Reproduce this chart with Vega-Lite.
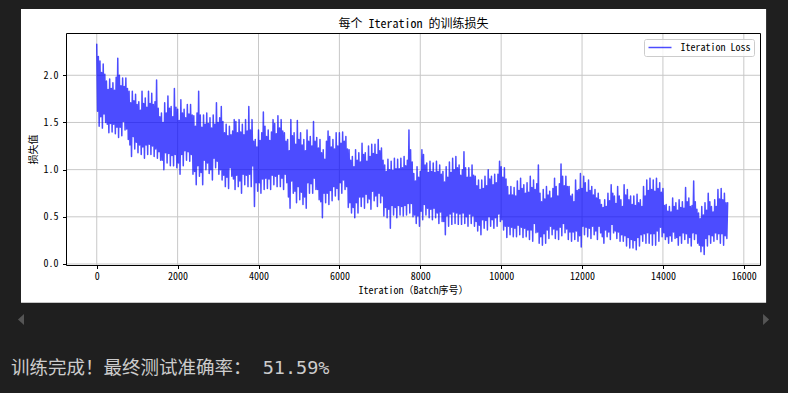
{
"$schema": "https://vega.github.io/schema/vega-lite/v6.json",
"width": 694, "height": 232,
"autosize": {"type": "none"},
"padding": {"left": 66, "top": 33, "right": 28, "bottom": 128},
"background": "#1f1f1f",
"config": {
  "font": "Noto Sans Mono CJK SC, DejaVu Sans Mono, Noto Sans CJK SC",
  "view": {"stroke": null},
  "axis": {"grid": false, "domainColor": "#000000", "domainWidth": 1, "tickColor": "#000000", "tickSize": 3.5, "tickWidth": 1, "labelColor": "#000000", "labelFontSize": 10, "titleColor": "#000000", "titleFontSize": 10, "titleFontWeight": "normal", "labelFlush": false, "labelOverlap": false},
  "axisX": {"labelPadding": 3, "titlePadding": 3.5},
  "axisY": {"labelPadding": 4.5, "titlePadding": 5}
},
"resolve": {"axis": {"x": "independent", "y": "independent"}},
"layer": [
{
  "data": {"values": [{}]},
  "mark": {"type": "rect", "color": "#ffffff"},
  "encoding": {
    "x": {"datum": -1873, "type": "quantitative", "scale": {"domain": [-760, 16400], "nice": false, "zero": false}, "axis": null},
    "x2": {"datum": 16551},
    "y": {"datum": 2.702, "type": "quantitative", "scale": {"domain": [-0.0106, 2.448], "nice": false, "zero": false}, "axis": null},
    "y2": {"datum": -0.41}
  }
},
{
  "data": {"values": [{"t":0},{"t":2000},{"t":4000},{"t":6000},{"t":8000},{"t":10000},{"t":12000},{"t":14000},{"t":16000}]},
  "mark": {"type": "rule", "color": "#c8c8c8", "strokeWidth": 1},
  "encoding": {
    "x": {"field": "t", "type": "quantitative", "scale": {"domain": [-760, 16400], "nice": false, "zero": false}, "axis": {"orient": "top", "zindex": 1, "title": "每个 Iteration 的训练损失", "titleFontSize": 12, "titlePadding": 3, "labels": false, "ticks": false, "domain": true}}
  }
},
{
  "data": {"values": [{"g":0},{"g":0.5},{"g":1},{"g":1.5},{"g":2}]},
  "mark": {"type": "rule", "color": "#c8c8c8", "strokeWidth": 1},
  "encoding": {
    "y": {"field": "g", "type": "quantitative", "scale": {"domain": [-0.0106, 2.448], "nice": false, "zero": false}, "axis": {"orient": "right", "zindex": 1, "title": null, "labels": false, "ticks": false, "domain": true}}
  }
},
{
  "data": {"values": [
{"i":0,"v":2.33},{"i":20,"v":1.62},{"i":40,"v":2.20},{"i":60,"v":1.46},
{"i":80,"v":2.15},{"i":100,"v":1.56},{"i":120,"v":2.03},{"i":140,"v":1.44},
{"i":160,"v":2.12},{"i":180,"v":1.59},{"i":200,"v":2.01},{"i":220,"v":1.50},
{"i":240,"v":1.94},{"i":260,"v":1.48},{"i":280,"v":1.85},{"i":300,"v":1.39},
{"i":320,"v":1.96},{"i":340,"v":1.49},{"i":360,"v":1.86},{"i":380,"v":1.40},
{"i":400,"v":1.92},{"i":420,"v":1.48},{"i":440,"v":1.84},{"i":460,"v":1.38},
{"i":480,"v":1.98},{"i":500,"v":1.45},{"i":520,"v":2.18},{"i":540,"v":1.34},
{"i":560,"v":2.00},{"i":580,"v":1.45},{"i":600,"v":1.89},{"i":620,"v":1.36},
{"i":640,"v":1.97},{"i":660,"v":1.51},{"i":680,"v":1.88},{"i":700,"v":1.42},
{"i":720,"v":1.97},{"i":740,"v":1.43},{"i":760,"v":1.86},{"i":780,"v":1.32},
{"i":800,"v":1.83},{"i":820,"v":1.26},{"i":840,"v":1.71},{"i":860,"v":1.14},
{"i":880,"v":1.83},{"i":900,"v":1.35},{"i":920,"v":1.73},{"i":940,"v":1.22},
{"i":960,"v":1.80},{"i":980,"v":1.29},{"i":1000,"v":1.69},{"i":1020,"v":1.18},
{"i":1040,"v":1.72},{"i":1060,"v":1.26},{"i":1080,"v":1.63},{"i":1100,"v":1.16},
{"i":1120,"v":1.83},{"i":1140,"v":1.24},{"i":1160,"v":1.70},{"i":1180,"v":1.12},
{"i":1200,"v":1.76},{"i":1220,"v":1.26},{"i":1240,"v":1.66},{"i":1260,"v":1.16},
{"i":1280,"v":1.83},{"i":1300,"v":1.27},{"i":1320,"v":1.70},{"i":1340,"v":1.16},
{"i":1360,"v":1.81},{"i":1380,"v":1.25},{"i":1400,"v":1.69},{"i":1420,"v":1.14},
{"i":1440,"v":1.72},{"i":1460,"v":1.22},{"i":1480,"v":1.95},{"i":1500,"v":1.12},
{"i":1520,"v":1.65},{"i":1540,"v":1.19},{"i":1560,"v":1.56},{"i":1580,"v":1.10},
{"i":1600,"v":1.60},{"i":1620,"v":1.10},{"i":1640,"v":1.50},{"i":1660,"v":1.00},
{"i":1680,"v":1.71},{"i":1700,"v":1.18},{"i":1720,"v":1.60},{"i":1740,"v":1.07},
{"i":1760,"v":1.78},{"i":1780,"v":1.17},{"i":1800,"v":1.65},{"i":1820,"v":1.04},
{"i":1840,"v":1.67},{"i":1860,"v":1.15},{"i":1880,"v":1.56},{"i":1900,"v":1.04},
{"i":1920,"v":1.86},{"i":1940,"v":1.16},{"i":1960,"v":1.66},{"i":1980,"v":1.02},
{"i":2000,"v":1.64},{"i":2020,"v":1.07},{"i":2040,"v":1.52},{"i":2060,"v":0.95},
{"i":2080,"v":1.74},{"i":2100,"v":1.16},{"i":2120,"v":1.60},{"i":2140,"v":1.04},
{"i":2160,"v":1.64},{"i":2180,"v":1.20},{"i":2200,"v":1.55},{"i":2220,"v":1.10},
{"i":2240,"v":1.69},{"i":2260,"v":1.19},{"i":2280,"v":1.59},{"i":2300,"v":1.09},
{"i":2320,"v":1.69},{"i":2340,"v":1.16},{"i":2360,"v":1.58},{"i":2380,"v":0.95},
{"i":2400,"v":1.57},{"i":2420,"v":0.98},{"i":2440,"v":1.46},{"i":2460,"v":0.84},
{"i":2480,"v":1.60},{"i":2500,"v":1.04},{"i":2520,"v":1.83},{"i":2540,"v":0.93},
{"i":2560,"v":1.58},{"i":2580,"v":0.97},{"i":2600,"v":1.45},{"i":2620,"v":0.84},
{"i":2640,"v":1.58},{"i":2660,"v":1.10},{"i":2680,"v":1.48},{"i":2700,"v":1.00},
{"i":2720,"v":1.60},{"i":2740,"v":1.07},{"i":2760,"v":1.49},{"i":2780,"v":0.96},
{"i":2800,"v":1.55},{"i":2820,"v":1.00},{"i":2840,"v":1.44},{"i":2860,"v":0.89},
{"i":2880,"v":1.58},{"i":2900,"v":1.12},{"i":2920,"v":1.48},{"i":2940,"v":1.02},
{"i":2960,"v":1.71},{"i":2980,"v":1.09},{"i":3000,"v":1.50},{"i":3020,"v":0.95},
{"i":3040,"v":1.55},{"i":3060,"v":1.00},{"i":3080,"v":1.67},{"i":3100,"v":0.89},
{"i":3120,"v":1.51},{"i":3140,"v":0.94},{"i":3160,"v":1.39},{"i":3180,"v":0.82},
{"i":3200,"v":1.48},{"i":3220,"v":0.92},{"i":3240,"v":1.36},{"i":3260,"v":0.80},
{"i":3280,"v":1.46},{"i":3300,"v":1.02},{"i":3320,"v":1.37},{"i":3340,"v":0.93},
{"i":3360,"v":1.41},{"i":3380,"v":0.90},{"i":3400,"v":1.53},{"i":3420,"v":0.79},
{"i":3440,"v":1.51},{"i":3460,"v":0.94},{"i":3480,"v":1.39},{"i":3500,"v":0.82},
{"i":3520,"v":1.53},{"i":3540,"v":0.88},{"i":3560,"v":1.40},{"i":3580,"v":0.75},
{"i":3600,"v":1.48},{"i":3620,"v":0.95},{"i":3640,"v":1.37},{"i":3660,"v":0.84},
{"i":3680,"v":1.53},{"i":3700,"v":0.94},{"i":3720,"v":1.41},{"i":3740,"v":0.82},
{"i":3760,"v":1.67},{"i":3780,"v":0.95},{"i":3800,"v":1.42},{"i":3820,"v":0.82},
{"i":3840,"v":1.53},{"i":3860,"v":1.04},{"i":3880,"v":1.30},{"i":3900,"v":0.61},
{"i":3920,"v":1.32},{"i":3940,"v":0.86},{"i":3960,"v":1.24},{"i":3980,"v":0.77},
{"i":4000,"v":1.42},{"i":4020,"v":0.86},{"i":4040,"v":1.31},{"i":4060,"v":0.75},
{"i":4080,"v":1.39},{"i":4100,"v":0.90},{"i":4120,"v":1.61},{"i":4140,"v":0.79},
{"i":4160,"v":1.46},{"i":4180,"v":0.91},{"i":4200,"v":1.35},{"i":4220,"v":0.80},
{"i":4240,"v":1.42},{"i":4260,"v":0.90},{"i":4280,"v":1.31},{"i":4300,"v":0.79},
{"i":4320,"v":1.40},{"i":4340,"v":0.94},{"i":4360,"v":1.53},{"i":4380,"v":0.84},
{"i":4400,"v":1.49},{"i":4420,"v":0.93},{"i":4440,"v":1.38},{"i":4460,"v":0.82},
{"i":4480,"v":1.57},{"i":4500,"v":0.95},{"i":4520,"v":1.44},{"i":4540,"v":0.82},
{"i":4560,"v":1.53},{"i":4580,"v":0.91},{"i":4600,"v":1.41},{"i":4620,"v":0.79},
{"i":4640,"v":1.39},{"i":4660,"v":0.95},{"i":4680,"v":1.30},{"i":4700,"v":0.86},
{"i":4720,"v":1.32},{"i":4740,"v":0.71},{"i":4760,"v":1.20},{"i":4780,"v":0.59},
{"i":4800,"v":1.53},{"i":4820,"v":0.88},{"i":4840,"v":1.36},{"i":4860,"v":0.75},
{"i":4880,"v":1.39},{"i":4900,"v":0.77},{"i":4920,"v":1.27},{"i":4940,"v":0.65},
{"i":4960,"v":1.52},{"i":4980,"v":0.82},{"i":5000,"v":1.32},{"i":5020,"v":0.68},
{"i":5040,"v":1.39},{"i":5060,"v":0.76},{"i":5080,"v":1.26},{"i":5100,"v":0.63},
{"i":5120,"v":1.32},{"i":5140,"v":0.71},{"i":5160,"v":1.20},{"i":5180,"v":0.59},
{"i":5200,"v":1.42},{"i":5220,"v":0.86},{"i":5240,"v":1.30},{"i":5260,"v":0.75},
{"i":5280,"v":1.35},{"i":5300,"v":0.85},{"i":5320,"v":1.25},{"i":5340,"v":0.75},
{"i":5360,"v":1.51},{"i":5380,"v":0.91},{"i":5400,"v":1.30},{"i":5420,"v":0.79},
{"i":5440,"v":1.34},{"i":5460,"v":0.79},{"i":5480,"v":1.23},{"i":5500,"v":0.68},
{"i":5520,"v":1.32},{"i":5540,"v":0.66},{"i":5560,"v":1.18},{"i":5580,"v":0.49},
{"i":5600,"v":1.21},{"i":5620,"v":0.75},{"i":5640,"v":1.11},{"i":5660,"v":0.65},
{"i":5680,"v":1.30},{"i":5700,"v":0.75},{"i":5720,"v":1.41},{"i":5740,"v":0.63},
{"i":5760,"v":1.35},{"i":5780,"v":0.78},{"i":5800,"v":1.24},{"i":5820,"v":0.67},
{"i":5840,"v":1.32},{"i":5860,"v":0.82},{"i":5880,"v":1.22},{"i":5900,"v":0.72},
{"i":5920,"v":1.39},{"i":5940,"v":0.80},{"i":5960,"v":1.25},{"i":5980,"v":0.68},
{"i":6000,"v":1.39},{"i":6020,"v":0.86},{"i":6040,"v":1.28},{"i":6060,"v":0.75},
{"i":6080,"v":1.40},{"i":6100,"v":0.89},{"i":6120,"v":1.30},{"i":6140,"v":0.79},
{"i":6160,"v":1.35},{"i":6180,"v":0.82},{"i":6200,"v":1.22},{"i":6220,"v":0.60},
{"i":6240,"v":1.21},{"i":6260,"v":0.65},{"i":6280,"v":1.10},{"i":6300,"v":0.54},
{"i":6320,"v":1.14},{"i":6340,"v":0.60},{"i":6360,"v":1.03},{"i":6380,"v":0.49},
{"i":6400,"v":1.21},{"i":6420,"v":0.65},{"i":6440,"v":1.10},{"i":6460,"v":0.54},
{"i":6480,"v":1.18},{"i":6500,"v":0.71},{"i":6520,"v":1.08},{"i":6540,"v":0.61},
{"i":6560,"v":1.28},{"i":6580,"v":0.71},{"i":6600,"v":1.16},{"i":6620,"v":0.59},
{"i":6640,"v":1.18},{"i":6660,"v":0.74},{"i":6680,"v":1.09},{"i":6700,"v":0.65},
{"i":6720,"v":1.25},{"i":6740,"v":0.69},{"i":6760,"v":1.14},{"i":6780,"v":0.58},
{"i":6800,"v":1.27},{"i":6820,"v":0.77},{"i":6840,"v":1.17},{"i":6860,"v":0.67},
{"i":6880,"v":1.27},{"i":6900,"v":0.72},{"i":6920,"v":1.16},{"i":6940,"v":0.61},
{"i":6960,"v":1.32},{"i":6980,"v":0.75},{"i":7000,"v":1.20},{"i":7020,"v":0.65},
{"i":7040,"v":1.23},{"i":7060,"v":0.72},{"i":7080,"v":1.10},{"i":7100,"v":0.51},
{"i":7120,"v":1.05},{"i":7140,"v":0.60},{"i":7160,"v":0.98},{"i":7180,"v":0.49},
{"i":7200,"v":1.11},{"i":7220,"v":0.58},{"i":7240,"v":1.00},{"i":7260,"v":0.38},
{"i":7280,"v":1.09},{"i":7300,"v":0.62},{"i":7320,"v":0.99},{"i":7340,"v":0.52},
{"i":7360,"v":1.12},{"i":7380,"v":0.60},{"i":7400,"v":1.01},{"i":7420,"v":0.49},
{"i":7440,"v":1.11},{"i":7460,"v":0.62},{"i":7480,"v":1.01},{"i":7500,"v":0.52},
{"i":7520,"v":1.12},{"i":7540,"v":0.61},{"i":7560,"v":1.02},{"i":7580,"v":0.51},
{"i":7600,"v":1.14},{"i":7620,"v":0.62},{"i":7640,"v":1.04},{"i":7660,"v":0.52},
{"i":7680,"v":1.10},{"i":7700,"v":0.64},{"i":7720,"v":1.42},{"i":7740,"v":0.54},
{"i":7760,"v":1.21},{"i":7780,"v":0.64},{"i":7800,"v":1.08},{"i":7820,"v":0.50},
{"i":7840,"v":0.96},{"i":7860,"v":0.52},{"i":7880,"v":0.88},{"i":7900,"v":0.43},
{"i":7920,"v":1.03},{"i":7940,"v":0.51},{"i":7960,"v":0.92},{"i":7980,"v":0.40},
{"i":8000,"v":0.98},{"i":8020,"v":0.56},{"i":8040,"v":1.21},{"i":8060,"v":0.47},
{"i":8080,"v":1.16},{"i":8100,"v":0.63},{"i":8120,"v":1.05},{"i":8140,"v":0.52},
{"i":8160,"v":1.07},{"i":8180,"v":0.59},{"i":8200,"v":0.97},{"i":8220,"v":0.49},
{"i":8240,"v":1.09},{"i":8260,"v":0.58},{"i":8280,"v":0.98},{"i":8300,"v":0.47},
{"i":8320,"v":1.07},{"i":8340,"v":0.59},{"i":8360,"v":0.97},{"i":8380,"v":0.49},
{"i":8400,"v":1.09},{"i":8420,"v":0.54},{"i":8440,"v":0.98},{"i":8460,"v":0.43},
{"i":8480,"v":1.05},{"i":8500,"v":0.55},{"i":8520,"v":0.95},{"i":8540,"v":0.45},
{"i":8560,"v":0.98},{"i":8580,"v":0.45},{"i":8600,"v":0.87},{"i":8620,"v":0.31},
{"i":8640,"v":1.03},{"i":8660,"v":0.51},{"i":8680,"v":0.92},{"i":8700,"v":0.40},
{"i":8720,"v":1.08},{"i":8740,"v":0.53},{"i":8760,"v":0.97},{"i":8780,"v":0.42},
{"i":8800,"v":1.12},{"i":8820,"v":0.55},{"i":8840,"v":1.00},{"i":8860,"v":0.43},
{"i":8880,"v":1.14},{"i":8900,"v":0.54},{"i":8920,"v":1.02},{"i":8940,"v":0.42},
{"i":8960,"v":1.05},{"i":8980,"v":0.53},{"i":9000,"v":0.94},{"i":9020,"v":0.42},
{"i":9040,"v":1.00},{"i":9060,"v":0.54},{"i":9080,"v":1.19},{"i":9100,"v":0.43},
{"i":9120,"v":1.02},{"i":9140,"v":0.50},{"i":9160,"v":0.92},{"i":9180,"v":0.40},
{"i":9200,"v":1.02},{"i":9220,"v":0.53},{"i":9240,"v":0.92},{"i":9260,"v":0.43},
{"i":9280,"v":1.05},{"i":9300,"v":0.51},{"i":9320,"v":0.94},{"i":9340,"v":0.40},
{"i":9360,"v":0.93},{"i":9380,"v":0.45},{"i":9400,"v":0.83},{"i":9420,"v":0.35},
{"i":9440,"v":0.89},{"i":9460,"v":0.41},{"i":9480,"v":0.79},{"i":9500,"v":0.31},
{"i":9520,"v":0.89},{"i":9540,"v":0.47},{"i":9560,"v":0.80},{"i":9580,"v":0.38},
{"i":9600,"v":0.93},{"i":9620,"v":0.46},{"i":9640,"v":0.83},{"i":9660,"v":0.36},
{"i":9680,"v":1.00},{"i":9700,"v":0.50},{"i":9720,"v":0.90},{"i":9740,"v":0.40},
{"i":9760,"v":0.93},{"i":9780,"v":0.47},{"i":9800,"v":0.84},{"i":9820,"v":0.38},
{"i":9840,"v":0.95},{"i":9860,"v":0.49},{"i":9880,"v":0.86},{"i":9900,"v":0.40},
{"i":9920,"v":0.95},{"i":9940,"v":0.53},{"i":9960,"v":1.09},{"i":9980,"v":0.45},
{"i":10000,"v":1.03},{"i":10020,"v":0.47},{"i":10040,"v":0.92},{"i":10060,"v":0.36},
{"i":10080,"v":1.02},{"i":10100,"v":0.40},{"i":10120,"v":0.90},{"i":10140,"v":0.28},
{"i":10160,"v":0.82},{"i":10180,"v":0.40},{"i":10200,"v":0.73},{"i":10220,"v":0.31},
{"i":10240,"v":0.82},{"i":10260,"v":0.39},{"i":10280,"v":0.73},{"i":10300,"v":0.29},
{"i":10320,"v":0.81},{"i":10340,"v":0.38},{"i":10360,"v":0.72},{"i":10380,"v":0.29},
{"i":10400,"v":0.88},{"i":10420,"v":0.41},{"i":10440,"v":0.78},{"i":10460,"v":0.31},
{"i":10480,"v":0.91},{"i":10500,"v":0.39},{"i":10520,"v":0.80},{"i":10540,"v":0.28},
{"i":10560,"v":0.84},{"i":10580,"v":0.38},{"i":10600,"v":0.75},{"i":10620,"v":0.29},
{"i":10640,"v":0.86},{"i":10660,"v":0.36},{"i":10680,"v":0.76},{"i":10700,"v":0.26},
{"i":10720,"v":0.93},{"i":10740,"v":0.36},{"i":10760,"v":0.81},{"i":10780,"v":0.24},
{"i":10800,"v":0.89},{"i":10820,"v":0.43},{"i":10840,"v":0.79},{"i":10860,"v":0.33},
{"i":10880,"v":0.85},{"i":10900,"v":0.34},{"i":10920,"v":1.05},{"i":10940,"v":0.22},
{"i":10960,"v":0.75},{"i":10980,"v":0.29},{"i":11000,"v":0.66},{"i":11020,"v":0.20},
{"i":11040,"v":0.79},{"i":11060,"v":0.32},{"i":11080,"v":0.69},{"i":11100,"v":0.22},
{"i":11120,"v":0.82},{"i":11140,"v":0.36},{"i":11160,"v":0.73},{"i":11180,"v":0.27},
{"i":11200,"v":0.77},{"i":11220,"v":0.40},{"i":11240,"v":0.70},{"i":11260,"v":0.31},
{"i":11280,"v":0.80},{"i":11300,"v":0.37},{"i":11320,"v":0.91},{"i":11340,"v":0.27},
{"i":11360,"v":0.82},{"i":11380,"v":0.36},{"i":11400,"v":0.72},{"i":11420,"v":0.26},
{"i":11440,"v":0.85},{"i":11460,"v":0.39},{"i":11480,"v":1.06},{"i":11500,"v":0.30},
{"i":11520,"v":0.93},{"i":11540,"v":0.43},{"i":11560,"v":0.83},{"i":11580,"v":0.33},
{"i":11600,"v":0.93},{"i":11620,"v":0.37},{"i":11640,"v":0.82},{"i":11660,"v":0.26},
{"i":11680,"v":0.82},{"i":11700,"v":0.34},{"i":11720,"v":0.72},{"i":11740,"v":0.24},
{"i":11760,"v":0.74},{"i":11780,"v":0.34},{"i":11800,"v":0.66},{"i":11820,"v":0.26},
{"i":11840,"v":0.89},{"i":11860,"v":0.35},{"i":11880,"v":0.78},{"i":11900,"v":0.24},
{"i":11920,"v":0.79},{"i":11940,"v":0.30},{"i":11960,"v":0.96},{"i":11980,"v":0.18},
{"i":12000,"v":0.80},{"i":12020,"v":0.40},{"i":12040,"v":0.93},{"i":12060,"v":0.31},
{"i":12080,"v":0.86},{"i":12100,"v":0.39},{"i":12120,"v":0.76},{"i":12140,"v":0.29},
{"i":12160,"v":0.89},{"i":12180,"v":0.38},{"i":12200,"v":0.78},{"i":12220,"v":0.27},
{"i":12240,"v":0.82},{"i":12260,"v":0.40},{"i":12280,"v":0.73},{"i":12300,"v":0.31},
{"i":12320,"v":0.79},{"i":12340,"v":0.35},{"i":12360,"v":0.70},{"i":12380,"v":0.26},
{"i":12400,"v":0.75},{"i":12420,"v":0.40},{"i":12440,"v":0.68},{"i":12460,"v":0.33},
{"i":12480,"v":0.63},{"i":12500,"v":0.29},{"i":12520,"v":0.60},{"i":12540,"v":0.22},
{"i":12560,"v":0.68},{"i":12580,"v":0.36},{"i":12600,"v":0.61},{"i":12620,"v":0.29},
{"i":12640,"v":0.75},{"i":12660,"v":0.34},{"i":12680,"v":0.67},{"i":12700,"v":0.26},
{"i":12720,"v":0.84},{"i":12740,"v":0.42},{"i":12760,"v":0.75},{"i":12780,"v":0.33},
{"i":12800,"v":0.72},{"i":12820,"v":0.35},{"i":12840,"v":0.64},{"i":12860,"v":0.27},
{"i":12880,"v":0.82},{"i":12900,"v":0.34},{"i":12920,"v":0.72},{"i":12940,"v":0.24},
{"i":12960,"v":0.68},{"i":12980,"v":0.31},{"i":13000,"v":0.61},{"i":13020,"v":0.24},
{"i":13040,"v":0.84},{"i":13060,"v":0.30},{"i":13080,"v":0.73},{"i":13100,"v":0.19},
{"i":13120,"v":0.79},{"i":13140,"v":0.28},{"i":13160,"v":0.68},{"i":13180,"v":0.17},
{"i":13200,"v":0.72},{"i":13220,"v":0.26},{"i":13240,"v":0.63},{"i":13260,"v":0.17},
{"i":13280,"v":0.72},{"i":13300,"v":0.25},{"i":13320,"v":0.62},{"i":13340,"v":0.15},
{"i":13360,"v":0.74},{"i":13380,"v":0.28},{"i":13400,"v":0.65},{"i":13420,"v":0.19},
{"i":13440,"v":0.68},{"i":13460,"v":0.31},{"i":13480,"v":0.61},{"i":13500,"v":0.24},
{"i":13520,"v":0.82},{"i":13540,"v":0.32},{"i":13560,"v":0.72},{"i":13580,"v":0.22},
{"i":13600,"v":0.89},{"i":13620,"v":0.33},{"i":13640,"v":0.78},{"i":13660,"v":0.22},
{"i":13680,"v":0.91},{"i":13700,"v":0.32},{"i":13720,"v":0.79},{"i":13740,"v":0.20},
{"i":13760,"v":0.89},{"i":13780,"v":0.32},{"i":13800,"v":0.77},{"i":13820,"v":0.20},
{"i":13840,"v":0.91},{"i":13860,"v":0.35},{"i":13880,"v":0.80},{"i":13900,"v":0.24},
{"i":13920,"v":0.86},{"i":13940,"v":0.39},{"i":13960,"v":0.76},{"i":13980,"v":0.29},
{"i":14000,"v":0.80},{"i":14020,"v":0.33},{"i":14040,"v":0.62},{"i":14060,"v":0.26},
{"i":14080,"v":0.63},{"i":14100,"v":0.29},{"i":14120,"v":0.56},{"i":14140,"v":0.22},
{"i":14160,"v":0.61},{"i":14180,"v":0.30},{"i":14200,"v":0.55},{"i":14220,"v":0.24},
{"i":14240,"v":0.70},{"i":14260,"v":0.34},{"i":14280,"v":0.61},{"i":14300,"v":0.27},
{"i":14320,"v":0.65},{"i":14340,"v":0.28},{"i":14360,"v":0.57},{"i":14380,"v":0.20},
{"i":14400,"v":0.68},{"i":14420,"v":0.30},{"i":14440,"v":0.60},{"i":14460,"v":0.22},
{"i":14480,"v":0.66},{"i":14500,"v":0.33},{"i":14520,"v":0.59},{"i":14540,"v":0.26},
{"i":14560,"v":0.81},{"i":14580,"v":0.32},{"i":14600,"v":0.66},{"i":14620,"v":0.22},
{"i":14640,"v":0.70},{"i":14660,"v":0.28},{"i":14680,"v":0.61},{"i":14700,"v":0.19},
{"i":14720,"v":0.62},{"i":14740,"v":0.33},{"i":14760,"v":0.88},{"i":14780,"v":0.26},
{"i":14800,"v":0.66},{"i":14820,"v":0.32},{"i":14840,"v":0.58},{"i":14860,"v":0.22},
{"i":14880,"v":0.54},{"i":14900,"v":0.20},{"i":14920,"v":0.48},{"i":14940,"v":0.13},
{"i":14960,"v":0.61},{"i":14980,"v":0.19},{"i":15000,"v":0.52},{"i":15020,"v":0.10},
{"i":15040,"v":0.65},{"i":15060,"v":0.27},{"i":15080,"v":0.57},{"i":15100,"v":0.19},
{"i":15120,"v":0.75},{"i":15140,"v":0.31},{"i":15160,"v":0.66},{"i":15180,"v":0.22},
{"i":15200,"v":0.61},{"i":15220,"v":0.30},{"i":15240,"v":0.55},{"i":15260,"v":0.24},
{"i":15280,"v":0.68},{"i":15300,"v":0.33},{"i":15320,"v":0.61},{"i":15340,"v":0.26},
{"i":15360,"v":0.79},{"i":15380,"v":0.32},{"i":15400,"v":0.69},{"i":15420,"v":0.22},
{"i":15440,"v":0.80},{"i":15460,"v":0.32},{"i":15480,"v":0.68},{"i":15500,"v":0.20},
{"i":15520,"v":0.75},{"i":15540,"v":0.30},{"i":15560,"v":0.65},{"i":15580,"v":0.27},
{"i":15600,"v":0.65}
  ]},
  "mark": {"type": "line", "strokeWidth": 1.5, "opacity": 0.7, "strokeJoin": "round", "strokeCap": "round"},
  "encoding": {
    "x": {"field": "i", "type": "quantitative", "scale": {"domain": [-760, 16400], "nice": false, "zero": false}, "axis": {"orient": "bottom", "zindex": 1, "title": "Iteration（Batch序号）", "values": [0,2000,4000,6000,8000,10000,12000,14000,16000], "format": "d"}},
    "y": {"field": "v", "type": "quantitative", "scale": {"domain": [-0.0106, 2.448], "nice": false, "zero": false}, "axis": {"orient": "left", "zindex": 1, "title": "损失值", "values": [0,0.5,1,1.5,2], "format": ".1f"}},
    "color": {"datum": "Iteration Loss", "type": "nominal", "scale": {"range": ["#0000ff"]}, "legend": {"title": null, "orient": "top-right", "offset": 6, "padding": 3.5, "clipHeight": 10, "fillColor": "rgba(255,255,255,0.8)", "strokeColor": "#cccccc", "cornerRadius": 2, "symbolType": "stroke", "symbolSize": 529, "symbolStrokeWidth": 1.5, "symbolOpacity": 0.7, "labelFontSize": 10, "labelOffset": 8, "labelColor": "#000000"}}
  }
},
{
  "data": {"values": [{}]},
  "mark": {"type": "text", "text": "训练完成！最终测试准确率： 51.59%", "align": "left", "baseline": "middle", "fontSize": 18.5, "color": "#cccccc", "font": "DejaVu Sans Mono, Noto Sans CJK SC"},
  "encoding": {
    "x": {"datum": -2120, "type": "quantitative", "scale": {"domain": [-760, 16400], "nice": false, "zero": false}, "axis": null},
    "y": {"datum": -1.103, "type": "quantitative", "scale": {"domain": [-0.0106, 2.448], "nice": false, "zero": false}, "axis": null}
  }
},
{
  "data": {"values": [{}]},
  "mark": {"type": "point", "filled": true, "size": 121, "color": "#555555", "opacity": 1, "shape": "M0.55,-1L-0.55,0L0.55,1Z"},
  "encoding": {
    "x": {"datum": -1873, "type": "quantitative", "scale": {"domain": [-760, 16400], "nice": false, "zero": false}, "axis": null},
    "y": {"datum": -0.589, "type": "quantitative", "scale": {"domain": [-0.0106, 2.448], "nice": false, "zero": false}, "axis": null}
  }
},
{
  "data": {"values": [{}]},
  "mark": {"type": "point", "filled": true, "size": 121, "color": "#555555", "opacity": 1, "shape": "M-0.55,-1L0.55,0L-0.55,1Z"},
  "encoding": {
    "x": {"datum": 16551, "type": "quantitative", "scale": {"domain": [-760, 16400], "nice": false, "zero": false}, "axis": null},
    "y": {"datum": -0.589, "type": "quantitative", "scale": {"domain": [-0.0106, 2.448], "nice": false, "zero": false}, "axis": null}
  }
}
]
}
